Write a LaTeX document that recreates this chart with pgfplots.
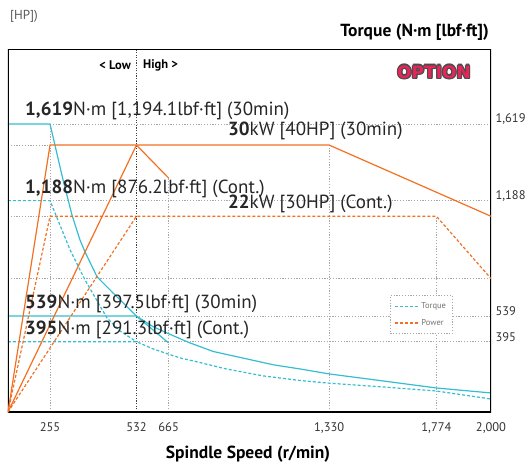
\documentclass[border=0pt]{standalone}
\usepackage{pgfplots}
\pgfplotsset{compat=1.18}
\usepackage{fontspec}
\setmainfont{PT Sans}
\newfontfamily\logofont{DejaVu Sans}

\definecolor{tq}{HTML}{35BDD0}
\definecolor{pw}{HTML}{F37021}
\definecolor{gridc}{HTML}{A8A8A8}
\definecolor{optred}{HTML}{E8245A}

\tikzset{
  grd/.style={gridc, line width=0.6pt, dash pattern=on 1.2pt off 1.6pt},
  full/.style={line width=1.2pt},
  cont/.style={line width=1.2pt, dash pattern=on 3pt off 2pt},
  ann/.style={anchor=base west, inner sep=0pt, font=\fontsize{19}{19}\selectfont, text=black!85},
}

\begin{document}
\begin{tikzpicture}[x=1pt,y=1pt]
\useasboundingbox (0,0) rectangle (528,467);

% torque axis (N.m)
\begin{axis}[
  at={(8pt,55pt)}, anchor=south west, scale only axis,
  width=483pt, height=363pt,
  xmin=0, xmax=2000, ymin=0, ymax=2040,
  axis line style={draw=none},
  tick style={draw=none},
  xtick={174,532,665,1330,1774,2000},
  xticklabels={255,532,665,{1,330},{1,774},{2,000}},
  ytick={395,539,1188,1619},
  yticklabels={395,539,{1,188},{1,619}},
  yticklabel pos=right,
  /pgf/number format/assume math mode=true,
  xticklabel style={font=\fontsize{12.5}{12.5}\selectfont, text=black!80, yshift=-7pt},
  yticklabel style={font=\fontsize{12.5}{12.5}\selectfont, text=black!80, yshift=4.5pt, xshift=1pt},
  legend style={at={(0.791,0.321)}, anchor=north west, draw=gridc, line width=0.6pt,
    dash pattern=on 1.2pt off 1.6pt, fill=white,
    font=\fontsize{8.5}{9}\selectfont, text=black!55,
    inner xsep=4pt, inner ysep=5pt, row sep=5pt, cells={anchor=west}},
]
% reference lines
\draw[grd] (axis cs:174,1619) -- (axis cs:2000,1619);
\draw[grd] (axis cs:0,1500) -- (axis cs:174,1500);
\draw[grd] (axis cs:174,1188) -- (axis cs:2000,1188);
\draw[grd] (axis cs:0,1100) -- (axis cs:174,1100);
\draw[grd] (axis cs:0,750) -- (axis cs:2000,750);
\draw[grd] (axis cs:532,539) -- (axis cs:2000,539);
\draw[grd] (axis cs:532,395) -- (axis cs:2000,395);
\draw[grd] (axis cs:174,0) -- (axis cs:174,1619);
\draw[grd] (axis cs:665,0) -- (axis cs:665,1315);
\draw[grd] (axis cs:1330,0) -- (axis cs:1330,1500);
\draw[grd] (axis cs:1774,0) -- (axis cs:1774,1100);
\draw[black!75, line width=0.8pt, dash pattern=on 1.2pt off 1.4pt] (axis cs:532,0) -- (axis cs:532,2040);

% low gear, 30 min
\addplot[tq, full, forget plot] coordinates {(0,1619) (174,1619) (228,1304) (265,1107) (298,967) (319,899) (369,759) (435,669) (532,539) (665,388)};
% high gear, 30 min
\addplot[tq, full, forget plot] coordinates {(0,539) (532,539) (600,480) (665,440) (750,390) (850,340) (990,298) (1100,265) (1209,242) (1330,214) (1550,175) (1774,135) (2000,107)};
% low gear, continuous
\addplot[tq, cont, forget plot] coordinates {(0,1188) (174,1188) (257,911) (319,742) (410,528) (464,455) (532,395)};
% high gear, continuous
\addplot[tq, cont, forget plot] coordinates {(0,395) (532,395) (600,355) (665,325) (712,304) (795,278) (900,243) (1056,203) (1209,177) (1330,162) (1550,141) (1774,118) (2000,73)};

\addlegendimage{legend image code/.code={\draw[draw=tq, line width=1.1pt, dash pattern=on 3pt off 2pt] (0pt,0pt) -- (24pt,0pt);}}
\addlegendentry{Torque}
\addlegendimage{legend image code/.code={\draw[draw=pw, line width=1.1pt, dash pattern=on 3pt off 2pt] (0pt,0pt) -- (24pt,0pt);}}
\addlegendentry{Power}

% frame
\draw[black, line width=0.7pt] (rel axis cs:0,1) -- (rel axis cs:1,1);
\draw[black, line width=1.6pt] (rel axis cs:0,1) -- (rel axis cs:0,0) -- (rel axis cs:1,0) -- (rel axis cs:1,1);
\end{axis}

% power axis (kW)
\begin{axis}[
  at={(8pt,55pt)}, anchor=south west, scale only axis,
  width=483pt, height=363pt,
  xmin=0, xmax=2000, ymin=0, ymax=40.8,
  hide axis,
]
\addplot[pw, full] coordinates {(0,0) (174,30) (532,30) (665,26.3)};
\addplot[pw, full] coordinates {(0,0) (532,30) (1330,30) (2000,22)};
\addplot[pw, cont] coordinates {(0,0) (174,22) (532,22)};
\addplot[pw, cont] coordinates {(0,0) (532,22) (1774,22) (2000,15)};
\end{axis}

% titles
\node[anchor=west, inner sep=0pt, text=black!65, font=\fontsize{13}{13}\selectfont] at (10,451) {[HP])};
\node[anchor=east, inner sep=0pt, font=\bfseries\fontsize{17.5}{17.5}\selectfont] at (489,435) {Torque (N·m [lbf·ft])};
\node[anchor=center, inner sep=0pt, font=\bfseries\fontsize{17.5}{17.5}\selectfont] at (248,13) {Spindle Speed (r/min)};
\node[anchor=east, inner sep=0pt, font=\bfseries\fontsize{12.5}{12.5}\selectfont] at (131,402) {< Low};
\node[anchor=west, inner sep=0pt, font=\bfseries\fontsize{12.5}{12.5}\selectfont] at (143,402) {High >};

% logo
\foreach \dx/\dy in {-1.2/0,1.2/0,0/-1.2,0/1.2,-0.9/-0.9,0.9/0.9,-0.9/0.9,0.9/-0.9}
  \node[inner sep=0pt, text=black!70, font=\logofont\bfseries\fontsize{17}{17}\selectfont] at (434+\dx,395+\dy) {OPTION};
\node[inner sep=0pt, text=optred, font=\logofont\bfseries\fontsize{17}{17}\selectfont] at (434,395) {OPTION};

% annotations
\node[ann] at (25,351) {\textbf{1,619}N·m [1,194.1lbf·ft] (30min)};
\node[ann] at (228,331) {\textbf{30}kW [40HP] (30min)};
\node[ann] at (25,273) {\textbf{1,188}N·m [876.2lbf·ft] (Cont.)};
\node[ann] at (228,259) {\textbf{22}kW [30HP] (Cont.)};
\node[ann] at (25,159) {\textbf{539}N·m [397.5lbf·ft] (30min)};
\node[ann] at (25,133) {\textbf{395}N·m [291.3lbf·ft] (Cont.)};
\end{tikzpicture}
\end{document}
